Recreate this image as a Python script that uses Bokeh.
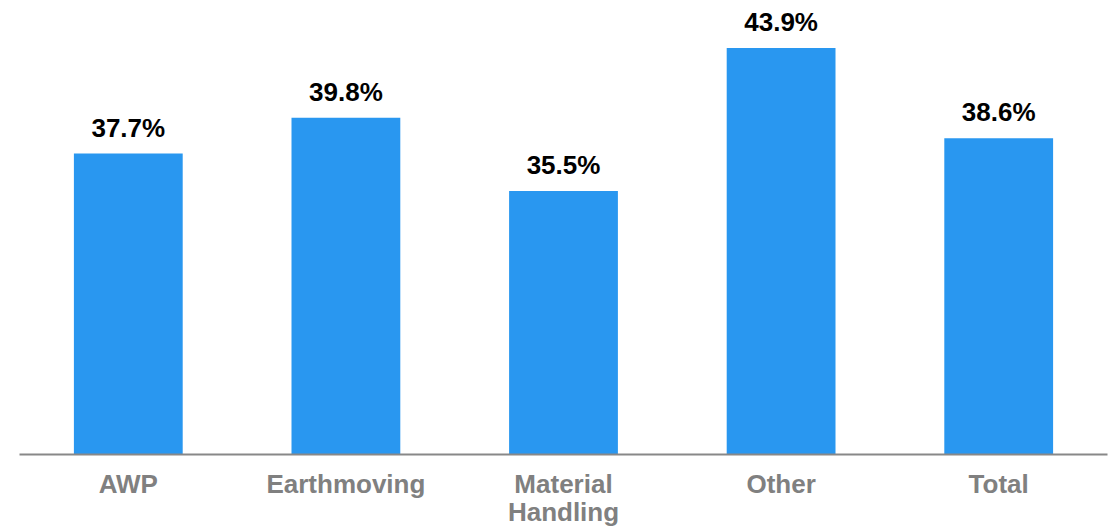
from bokeh.plotting import figure
from bokeh.models import ColumnDataSource, FactorRange, Range1d
from bokeh.core.properties import value
from bokeh.embed import file_html
from bokeh.resources import INLINE

categories = ["AWP", "Earthmoving", "Material\nHandling", "Other", "Total"]
values = [37.7, 39.8, 35.5, 43.9, 38.6]
labels = ["37.7%", "39.8%", "35.5%", "43.9%", "38.6%"]

src = ColumnDataSource(data=dict(cat=categories, val=values, lab=labels))

p = figure(width=1114, height=530, x_range=FactorRange(*categories, range_padding=0),
           y_range=Range1d(20, 46.7), output_backend="svg", toolbar_location=None,
           min_border_left=19, min_border_right=7, min_border_top=0, min_border_bottom=76)
p.outline_line_color = None
p.grid.grid_line_color = None
p.yaxis.visible = False
p.background_fill_color = "white"

p.vbar(x="cat", top="val", bottom=19.9, width=0.5, source=src,
       fill_color="#2997F0", line_color=None)

p.text(x="cat", y="val", text="lab", source=src, y_offset=-11,
       text_align="center", text_baseline="bottom",
       text_font=value("Liberation Sans"), text_font_style="bold",
       text_font_size="26px", text_color="black")

ax = p.xaxis[0]
ax.axis_line_color = "#888888"
ax.axis_line_width = 2
ax.major_tick_line_color = None
ax.minor_tick_line_color = None
ax.major_tick_out = 0
ax.major_tick_in = 0
ax.major_label_standoff = 14
ax.major_label_text_font = "Liberation Sans"
ax.major_label_text_font_style = "bold"
ax.major_label_text_font_size = "26px"
ax.major_label_text_color = "#808080"
ax.major_label_text_line_height = 0.96

open("out.html", "w").write(file_html(p, INLINE))
